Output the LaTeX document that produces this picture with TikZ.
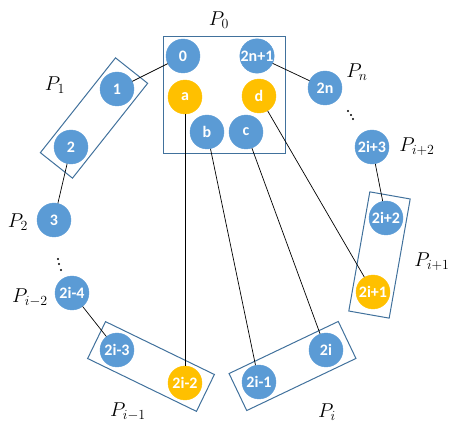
\documentclass[tikz,border=0pt]{standalone}
\usepackage{fontspec}
\newfontfamily\numfont{Carlito}
\usetikzlibrary{calc}

\definecolor{ballblue}{HTML}{5B9BD5}
\definecolor{ballgold}{HTML}{FFC000}
\definecolor{boxblue}{HTML}{41719C}

\tikzset{
  ball/.style={circle, fill=ballblue, draw=ballblue, minimum size=34pt, inner sep=0pt,
    text=white, font=\numfont\bfseries\fontsize{16}{16}\selectfont},
  gold/.style={ball, fill=ballgold, draw=ballgold},
  grp/.style={draw=boxblue, line width=1pt, minimum width=121pt, minimum height=41pt, inner sep=0pt},
  link/.style={black, line width=0.7pt},
  lbl/.style={font=\fontsize{17.28}{17.28}\selectfont, scale=1.16}
}

\begin{document}
\begin{tikzpicture}[x=1pt,y=-1pt]
    \useasboundingbox (0,0) rectangle (464,441);

    % Server P0
    \node[draw=boxblue, line width=1pt, minimum width=122pt, minimum height=117pt] (p0box) at (224,95.5) {};
    \node[ball] (n0) at (183,56) {0};
    \node[ball] (n2n1) at (257,56) {2n+1};
    \node[gold] (na) at (185,97) {a};
    \node[gold] (nd) at (259,96) {d};
    \node[ball] (nb) at (207,132) {b};
    \node[ball] (nc) at (246,132) {c};

    % Ring
    \node[ball] (n1) at (117,89) {1};
    \node[ball] (n2) at (71,147) {2};
    \node[ball] (n3) at (54,220) {3};
    \node[ball] (n2im4) at (72,293) {2i-4};
    \node[ball] (n2im3) at (117,350) {2i-3};
    \node[gold] (n2im2) at (185,383) {2i-2};
    \node[ball] (n2im1) at (259,382) {2i-1};
    \node[ball] (n2i) at (326,350) {2i};
    \node[gold] (n2ip1) at (373,292) {2i+1};
    \node[ball] (n2ip2) at (386,218) {2i+2};
    \node[ball] (n2ip3) at (372,147) {2i+3};
    \node[ball] (n2n) at (325,88) {2n};

    % Groups
    \node[grp, rotate=51.6] (box1) at ($(n1)!.5!(n2)$) {};
    \node[grp, rotate=-25.9] (boxim1) at ($(n2im3)!.5!(n2im2)$) {};
    \node[grp, rotate=25.5] (boxi) at ($(n2im1)!.5!(n2i)$) {};
    \node[grp, rotate=80] (boxip1) at ($(n2ip1)!.5!(n2ip2)$) {};

    % Links
    \draw[link] (n0) -- (n1);
    \draw[link] (n2) -- (n3);
    \draw[link] (n2im4) -- (n2im3);
    \draw[link] (na) -- (n2im2);
    \draw[link] (nb) -- (n2im1);
    \draw[link] (nc) -- (n2i);
    \draw[link] (nd) -- (n2ip1);
    \draw[link] (n2ip3) -- (n2ip2);
    \draw[link] (n2n1) -- (n2n);

    % Dots
    \foreach \p in {(58,259),(59,264),(61,270),(348,111),(351,115),(353,119)}
        \fill \p circle (1.1pt);

    % Labels
    \node[lbl] (l0) at (219,20) {$P_0$};
    \node[lbl] (l1) at (55,85) {$P_1$};
    \node[lbl] (l2) at (18,222) {$P_2$};
    \node[lbl] (lim2) at (30,298) {$P_{i-2}$};
    \node[lbl] (lim1) at (128,412) {$P_{i-1}$};
    \node[lbl] (li) at (327,412) {$P_i$};
    \node[lbl] (lip1) at (432,262) {$P_{i+1}$};
    \node[lbl] (lip2) at (417,147) {$P_{i+2}$};
    \node[lbl] (ln) at (357,72) {$P_n$};
\end{tikzpicture}
\end{document}
